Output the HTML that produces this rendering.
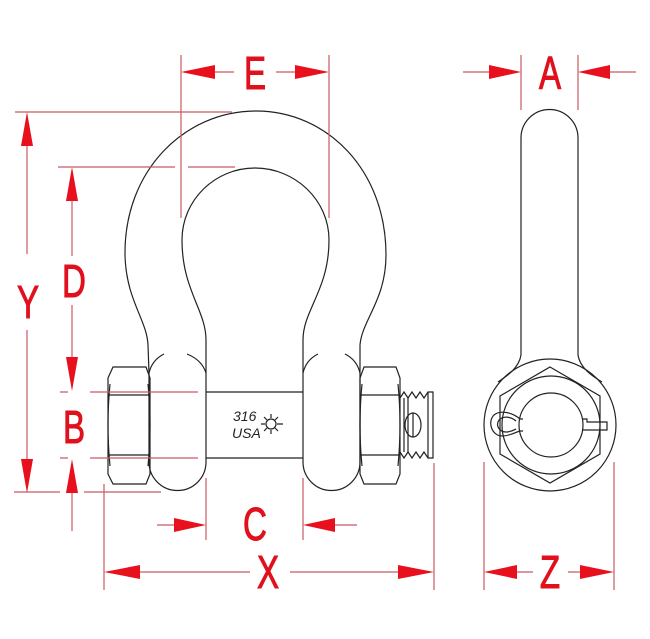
<!DOCTYPE html>
<html><head><meta charset="utf-8"><style>
html,body{margin:0;padding:0;background:#fff;}
svg{display:block;}
.r{stroke:#c85a62;stroke-width:1.2;fill:none;}
.a{fill:#e8101c;stroke:none;}
.k{stroke:#222;stroke-width:1.2;fill:none;}
.t{font-family:"Liberation Sans",sans-serif;font-size:46px;fill:#e0101c;stroke:#e0101c;stroke-width:1;text-anchor:middle;}
.s{font-family:"Liberation Sans",sans-serif;font-size:14px;fill:#222;font-style:italic;}
</style></head><body>
<svg width="650" height="639" viewBox="0 0 650 639" xmlns="http://www.w3.org/2000/svg">
<path class="k" d="M149,373 L148,345 C147,320 126,300 125,255 C124,170 185,111 256,111 C327,111 386,170 386,255 C386,300 362,320 360,345 L360,373"/>
<path class="k" d="M206,373 L206,340 C206,310 182,290 182,240 C182,200 215,168 255,168 C295,168 329,200 329,240 C329,290 303,310 303,340 L303,373"/>
<path class="k" d="M149,373 L149,462 A28.5,28.5 0 0 0 206,462 L206,373"/>
<path class="k" d="M149,373 Q152,360 164,354 M187,354 Q202,360 206,373"/>
<path class="k" d="M303,373 L303,462 A28.5,28.5 0 0 0 360,462 L360,373"/>
<path class="k" d="M303,373 Q306,360 318,354 M345,354 Q357,360 360,373"/>
<path class="k" d="M206,392 L303,392 M206,458 L303,458"/>
<path class="k" d="M113,367 L146,367 L150,378 L150,474 L146,484 L113,484 L108,474 L108,378 Z"/>
<path class="k" d="M108,395 L150,395 M108,455 L150,455 M110,384 Q106,425 110,466 M148,384 Q152,425 148,466"/>
<path class="k" d="M364,367 L396,367 L400,378 L400,474 L396,484 L364,484 L360,474 L360,378 Z"/>
<path class="k" d="M360,395 L400,395 M360,455 L400,455 M362,384 Q358,425 362,466 M398,384 Q402,425 398,466"/>
<path class="k" d="M400,398 L404,392 L408,398 L412,392 L416,398 L420,392 L424,398 L428,392 L433,392 L433,458 L428,458 L424,452 L420,458 L416,452 L412,458 L408,452 L404,458 L400,452"/>
<path class="k" d="M404,398 L404,452 M408,398 L408,452 M428,392 L428,458"/>
<ellipse class="k" cx="413" cy="425" rx="8" ry="12"/>
<path class="k" d="M413,413 L413,437"/>
<text class="s" x="233" y="421">316</text>
<text class="s" x="232" y="438">USA</text>
<circle class="k" cx="271" cy="424" r="5" stroke-width="1"/>
<path class="k" stroke-width="1" d="M271,414 L271,418 M271,430 L271,434 M261,424 L265,424 M277,424 L283,424 M264,417 L267,420 M275,428 L278,431 M264,431 L267,428 M275,420 L278,417"/>
<path class="k" d="M521,355 L521,138 A28.5,28.5 0 0 1 578,138 L578,355 C580,368 592,376 602,382"/>
<path class="k" d="M521,355 C519,368 507,376 498,382"/>
<circle class="k" cx="550" cy="425" r="66"/>
<polygon class="k" points="550,367 600,396 600,454 550,483 500,454 500,396"/>
<circle class="k" cx="551" cy="425" r="49"/>
<circle class="k" cx="551" cy="425" r="32"/>
<path class="k" d="M520,419 L523,419 M520,431 L523,431 M582,419 L587,419 L587,422 L607,422 L607,430 L587,430 L582,430"/>
<path class="k" d="M520,419 C512,412 500,410 494,415 C487,422 492,436 502,436 C510,436 516,432 520,431"/>
<path class="k" d="M516,421 C510,416 503,416 499,420 C495,426 500,432 506,432 C511,432 514,430 516,429"/>
<path class="r" d="M181,55 L181,218 M329,55 L329,218 M214,72 L234,72 M276,72 L296,72"/>
<path class="r" d="M521,55 L521,110 M578,55 L578,110 M463,72 L490,72 M610,72 L636,72"/>
<path class="r" d="M15,112 L232,112 M58,167 L175,167 M188,167 L235,167"/>
<path class="r" d="M27,145 L27,254 M27,330 L27,460"/>
<path class="r" d="M72,200 L72,256 M72,305 L72,358"/>
<path class="r" d="M90,392 L198,392 M60,392 L68,392 M90,458 L198,458 M60,458 L68,458"/>
<path class="r" d="M14,492 L60,492 M84,492 L161,492 M72,492 L72,531"/>
<path class="r" d="M104,484 L104,590 M434,463 L434,590 M206,478 L206,540 M303,478 L303,540"/>
<path class="r" d="M157,525 L175,525 M335,525 L357,525"/>
<path class="r" d="M140,572 L250,572 M290,572 L400,572"/>
<path class="r" d="M484,462 L484,590 M614,462 L614,590 M517,572 L533,572 M568,572 L580,572"/>
<polygon class="a" points="181,72 215,65 215,79"/>
<polygon class="a" points="329,72 295,65 295,79"/>
<polygon class="a" points="521,72 489,65 489,79"/>
<polygon class="a" points="578,72 610,65 610,79"/>
<polygon class="a" points="27,112 21,146 33,146"/>
<polygon class="a" points="27,493 21,459 33,459"/>
<polygon class="a" points="72,167 66,201 78,201"/>
<polygon class="a" points="72,391 66,357 78,357"/>
<polygon class="a" points="72,459 66,493 78,493"/>
<polygon class="a" points="206,525 174,518 174,532"/>
<polygon class="a" points="303,525 335,518 335,532"/>
<polygon class="a" points="104,572 140,565 140,579"/>
<polygon class="a" points="434,572 398,565 398,579"/>
<polygon class="a" points="484,572 517,565 517,579"/>
<polygon class="a" points="614,572 580,565 580,579"/>
<text class="t" transform="translate(255,89) scale(0.72,1)">E</text>
<text class="t" transform="translate(550,89) scale(0.72,1)">A</text>
<text class="t" transform="translate(28,318) scale(0.72,1)">Y</text>
<text class="t" transform="translate(74,297) scale(0.72,1)">D</text>
<text class="t" transform="translate(74,443) scale(0.72,1)">B</text>
<text class="t" transform="translate(255,540) scale(0.72,1)">C</text>
<text class="t" transform="translate(268,588) scale(0.72,1)">X</text>
<text class="t" transform="translate(550,588) scale(0.72,1)">Z</text>
</svg>
</body></html>
